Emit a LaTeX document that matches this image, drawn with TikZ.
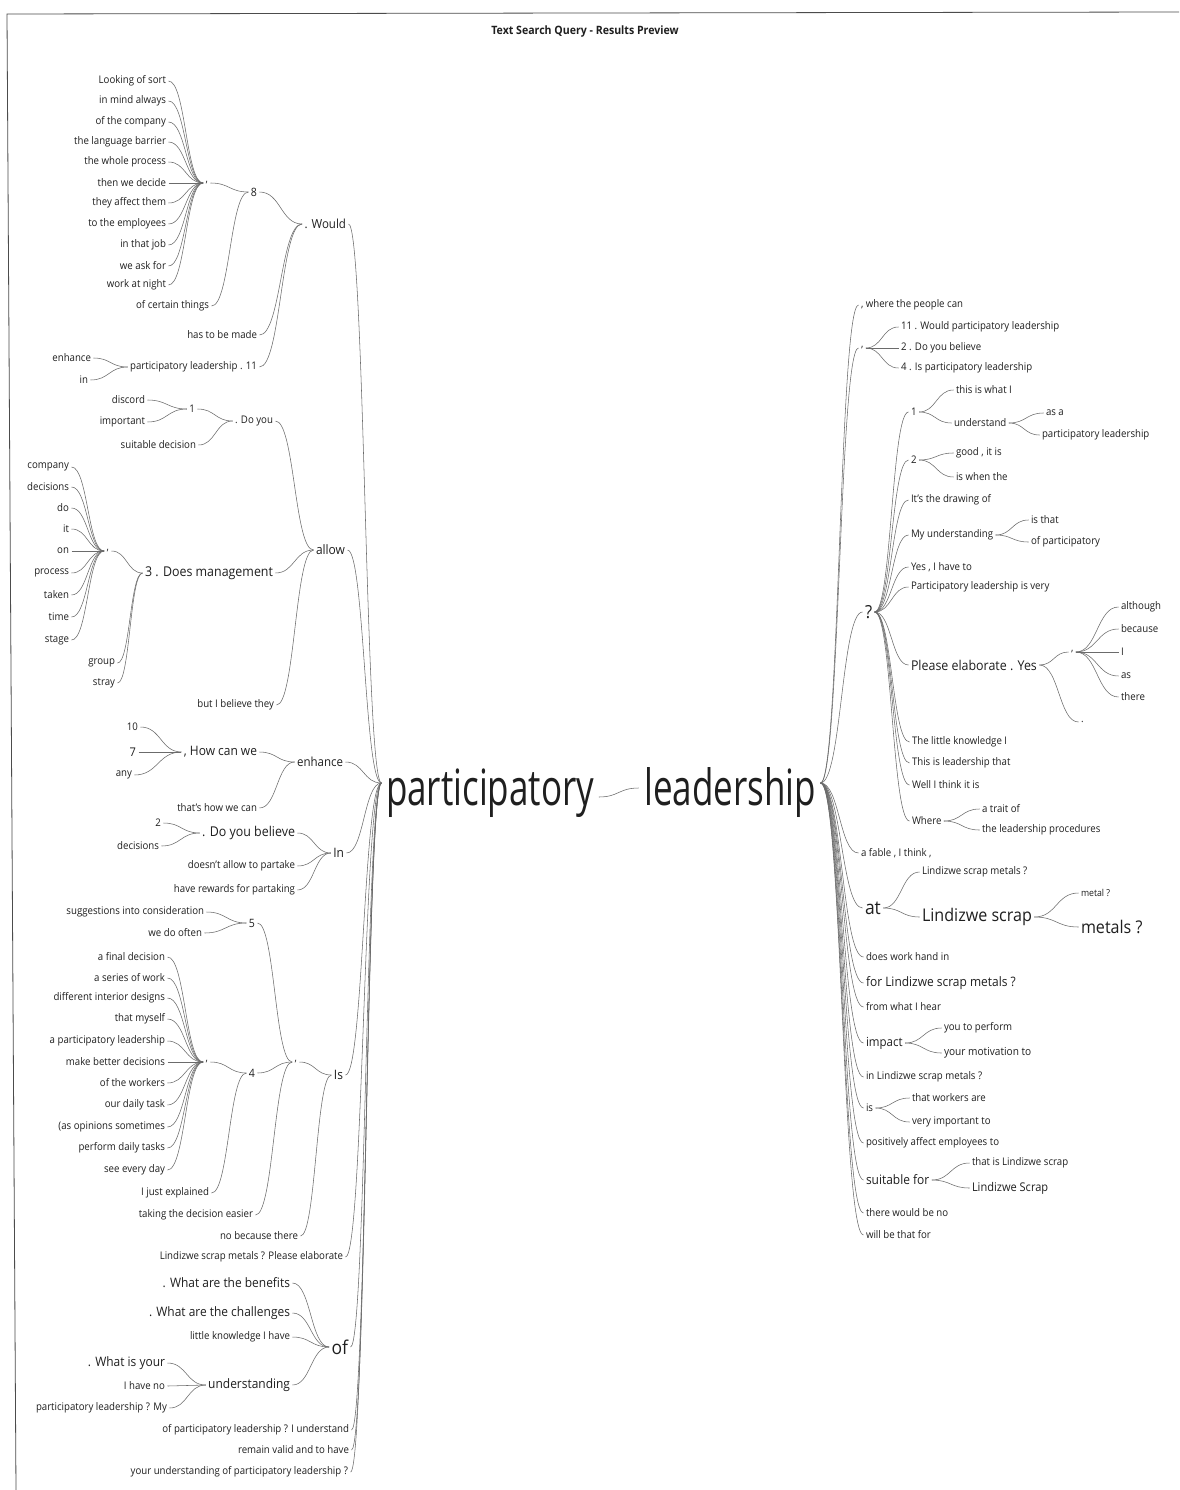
\documentclass[tikz,border=0pt]{standalone}
\usepackage{fontspec}
\setmainfont{Open Sans}[FakeStretch=0.92]
\newfontfamily\rootfont{Open Sans}[FakeStretch=0.7]
\usetikzlibrary{calc}
\definecolor{ink}{gray}{0.12}
\definecolor{wire}{gray}{0.42}
\begin{document}
\begin{tikzpicture}[x=1bp,y=-1bp,
  every node/.style={inner sep=1bp, outer sep=0pt, text=ink,
    font=\fontsize{10.5bp}{12bp}\selectfont},
  sz/.style={font=\fontsize{#1bp}{#1bp}\selectfont},
  lt/.style={anchor=east},
  rt/.style={anchor=west},
  rootword/.style={font=\rootfont\fontsize{50bp}{50bp}\selectfont, inner sep=0pt},
  edge/.style={draw=wire, line width=0.55bp, shorten <=1.5bp, shorten >=1.5bp},
  branch/.style={to path={.. controls ($(\tikztostart)!0.5!(\tikztostart -| \tikztotarget)$)
      and ($(\tikztotarget)!0.5!(\tikztotarget -| \tikztostart)$) .. (\tikztotarget)}}
]
\fill[white] (0,0) rectangle (1179,1490);
\useasboundingbox (0,0) rectangle (1179,1490);

% page frame and heading
\draw[black!70, line width=0.8bp] (1179,12) -- (7,14) -- (16,1490);
\node[font=\bfseries\fontsize{11.5bp}{12bp}\selectfont] (title) at (585,32) {Text Search Query - Results Preview};

% ---------------- the two root words ----------------
\node[rootword, anchor=base west] (P) at (386,805) {participatory};
\node[rootword, anchor=base east] (L) at (816,805) {leadership};
\coordinate (Pin) at ($(P.base west)+(-3,-22)$);
\coordinate (Pout) at ($(P.base east)+(3,-8)$);
\coordinate (Lin) at ($(L.base west)+(-4,-17)$);
\coordinate (Lout) at ($(L.base east)+(3,-22)$);
\draw[edge] (Pout) to[branch] (Lin);

% ---------------- words before "participatory" ----------------
% . Would
\node[lt,sz=12.5] (W) at (347,224) {. Would};
\node[lt,sz=11.5] (N8) at (258,192) {8};
\node[lt] (c1) at (209,183) {,};
\foreach \t/\yy [count=\i] in {{Looking of sort}/81, {in mind always}/101, {of the company}/122,
  {the language barrier}/142, {the whole process}/162, {then we decide}/183, {they affect them}/203,
  {to the employees}/224, {in that job}/245, {we ask for}/266, {work at night}/285}
  {\node[lt] (wa\i) at (167,\yy) {\t}; \draw[edge] (wa\i.east) to[branch] (c1.west);}
\node[lt] (oct) at (210,306) {of certain things};
\node[lt] (htb) at (258,335) {has to be made};
\node[lt] (plx) at (258,367) {participatory leadership . 11};
\node[lt] (enh) at (92,358) {enhance};
\node[lt] (inA) at (89,380) {in};
\draw[edge] (c1.east) to[branch] (N8.west);
\draw[edge] (oct.east) to[branch] (N8.west);
\foreach \c in {N8,htb,plx} \draw[edge] (\c.east) to[branch] (W.west);
\foreach \c in {enh,inA} \draw[edge] (\c.east) to[branch] (plx.west);

% allow
\node[lt,sz=13] (A) at (346,550) {allow};
\node[lt] (DY) at (274,421) {. Do you};
\node[lt] (N1) at (196,409) {1};
\node[lt] (dis) at (146,400) {discord};
\node[lt] (imp) at (146,422) {important};
\node[lt] (sud) at (197,445) {suitable decision};
\foreach \c in {dis,imp} \draw[edge] (\c.east) to[branch] (N1.west);
\foreach \c in {N1,sud} \draw[edge] (\c.east) to[branch] (DY.west);
\node[lt,sz=13.5] (DM) at (274,573) {3 . Does management};
\node[lt] (c2) at (110,551) {,};
\foreach \t/\yy [count=\i] in {{company}/467, {decisions}/487, {do}/508, {it}/529, {on}/551,
  {process}/573, {taken}/595, {time}/617, {stage}/640}
  {\node[lt] (dm\i) at (70,\yy) {\t}; \draw[edge] (dm\i.east) to[branch] (c2.west);}
\node[lt] (grp) at (116,663) {group};
\node[lt] (stray) at (116,683) {stray};
\foreach \c in {c2,grp,stray} \draw[edge] (\c.east) to[branch] (DM.west);
\node[lt] (bib) at (275,705) {but I believe they};
\foreach \c in {DY,DM,bib} \draw[edge] (\c.east) to[branch] (A.west);

% enhance
\node[lt,sz=12.5] (E) at (344,762) {enhance};
\node[lt,sz=13] (HC) at (258,752) {, How can we};
\node[lt] (ten) at (139,727) {10};
\node[lt,sz=12] (sev) at (137,752) {7};
\node[lt] (any) at (133,775) {any};
\foreach \c in {ten,sev,any} \draw[edge] (\c.east) to[branch] (HC.west);
\node[lt] (thc) at (258,808) {that's how we can};
\foreach \c in {HC,thc} \draw[edge] (\c.east) to[branch] (E.west);

% In
\node[lt,sz=13] (IN) at (345,853) {In};
\node[lt,sz=13.5] (DB) at (296,833) {. Do you believe};
\node[lt] (two) at (162,823) {2};
\node[lt] (dec) at (160,846) {decisions};
\foreach \c in {two,dec} \draw[edge] (\c.east) to[branch] (DB.west);
\node[lt] (dap) at (296,866) {doesn't allow to partake};
\node[lt] (hrp) at (296,890) {have rewards for partaking};
\foreach \c in {DB,dap,hrp} \draw[edge] (\c.east) to[branch] (IN.west);

% Is
\node[lt,sz=13] (IS) at (344,1075) {Is};
\node[lt] (X) at (298,1062) {,};
\node[lt,sz=11.5] (F5) at (256,923) {5};
\node[lt] (sic) at (205,912) {suggestions into consideration};
\node[lt] (wdo) at (203,933) {we do often};
\foreach \c in {sic,wdo} \draw[edge] (\c.east) to[branch] (F5.west);
\node[lt,sz=11.5] (F4) at (256,1073) {4};
\node[lt] (c3) at (209,1062) {,};
\foreach \t/\yy [count=\i] in {{a final decision}/957, {a series of work}/978,
  {different interior designs}/998, {that myself}/1019, {a participatory leadership}/1041,
  {make better decisions}/1062, {of the workers}/1083, {our daily task}/1105,
  {(as opinions sometimes}/1127, {perform daily tasks}/1148, {see every day}/1170}
  {\node[lt] (fo\i) at (166,\yy) {\t}; \draw[edge] (fo\i.east) to[branch] (c3.west);}
\node[lt] (ije) at (210,1193) {I just explained};
\foreach \c in {c3,ije} \draw[edge] (\c.east) to[branch] (F4.west);
\node[lt] (tde) at (254,1215) {taking the decision easier};
\foreach \c in {F5,F4,tde} \draw[edge] (\c.east) to[branch] (X.west);
\node[lt] (nbt) at (299,1236) {no because there};
\foreach \c in {X,nbt} \draw[edge] (\c.east) to[branch] (IS.west);

\node[lt] (lpe) at (344,1257) {Lindizwe scrap metals ? Please elaborate};

% of
\node[lt,sz=19] (OF) at (349,1347) {of};
\node[lt,sz=13] (wab) at (291,1283) {. What are the benefits};
\node[lt,sz=13] (wac) at (291,1313) {. What are the challenges};
\node[lt] (lkh) at (291,1337) {little knowledge I have};
\node[lt,sz=13] (U) at (291,1385) {understanding};
\node[lt,sz=13] (wiy) at (166,1363) {. What is your};
\node[lt] (ihn) at (166,1386) {I have no};
\node[lt] (plm) at (168,1408) {participatory leadership ? My};
\foreach \c in {wiy,ihn,plm} \draw[edge] (\c.east) to[branch] (U.west);
\foreach \c in {wab,wac,lkh,U} \draw[edge] (\c.east) to[branch] (OF.west);

\node[lt] (plu) at (350,1430) {of participatory leadership ? I understand};
\node[lt] (rvh) at (350,1450) {remain valid and to have};
\node[lt] (yup) at (349,1472) {your understanding of participatory leadership ?};

\foreach \c in {W,A,E,IN,IS,lpe,OF,plu,rvh,yup} \draw[edge] (\c.east) to[branch] (Pin);

% ---------------- words after "leadership" ----------------
\node[rt] (wpc) at (860,305) {, where the people can};
\node[rt] (R2) at (860,348) {,};
\node[rt] (r11) at (900,327) {11 . Would participatory leadership};
\node[rt] (r2) at (900,348) {2 . Do you believe};
\node[rt] (r4) at (900,368) {4 . Is participatory leadership};
\foreach \c in {r11,r2,r4} \draw[edge] (R2.east) to[branch] (\c.west);

% ?
\node[rt,sz=18] (Q) at (864,612) {?};
\node[rt] (Q1) at (910,412) {1};
\node[rt] (tiw) at (955,390) {this is what I};
\node[rt] (UN) at (953,423) {understand};
\node[rt] (asa) at (1045,413) {as a};
\node[rt] (pl2) at (1041,435) {participatory leadership};
\foreach \c in {asa,pl2} \draw[edge] (UN.east) to[branch] (\c.west);
\foreach \c in {tiw,UN} \draw[edge] (Q1.east) to[branch] (\c.west);
\node[rt] (Q2) at (910,460) {2};
\node[rt] (gii) at (955,453) {good , it is};
\node[rt] (iwt) at (955,477) {is when the};
\foreach \c in {gii,iwt} \draw[edge] (Q2.east) to[branch] (\c.west);
\node[rt] (tdo) at (910,500) {It's the drawing of};
\node[rt] (MU) at (910,535) {My understanding};
\node[rt] (ist) at (1030,520) {is that};
\node[rt] (opa) at (1030,542) {of participatory};
\foreach \c in {ist,opa} \draw[edge] (MU.east) to[branch] (\c.west);
\node[rt] (yih) at (910,567) {Yes , I have to};
\node[rt] (plv) at (910,587) {Participatory leadership is very};
\node[rt,sz=13.5] (PE) at (910,665) {Please elaborate . Yes};
\node[rt] (c4) at (1070,652) {,};
\foreach \t/\yy [count=\i] in {{although}/607, {because}/629, {I}/652, {as}/676, {there}/697}
  {\node[rt] (ye\i) at (1120,\yy) {\t}; \draw[edge] (c4.east) to[branch] (ye\i.west);}
\node[rt] (dot) at (1080,722) {.};
\foreach \c in {c4,dot} \draw[edge] (PE.east) to[branch] (\c.west);
\node[rt] (tlk) at (911,742) {The little knowledge I};
\node[rt] (tlt) at (911,763) {This is leadership that};
\node[rt] (wit) at (911,785) {Well I think it is};
\node[rt] (WH) at (911,821) {Where};
\node[rt] (ato) at (981,809) {a trait of};
\node[rt] (tlp) at (981,830) {the leadership procedures};
\foreach \c in {ato,tlp} \draw[edge] (WH.east) to[branch] (\c.west);
\foreach \c in {Q1,Q2,tdo,MU,yih,plv,PE,tlk,tlt,wit,WH} \draw[edge] (Q.east) to[branch] (\c.west);

\node[rt] (aft) at (860,853) {a fable , I think ,};

% at
\node[rt,sz=19] (AT) at (864,908) {at};
\node[rt] (lsm) at (921,872) {Lindizwe scrap metals ?};
\node[rt,sz=17.5] (LS) at (921,917) {Lindizwe scrap};
\node[rt,sz=9.5] (mt1) at (1080,893) {metal ?};
\node[rt,sz=17.5] (mt2) at (1080,927) {metals ?};
\foreach \c in {mt1,mt2} \draw[edge] (LS.east) to[branch] (\c.west);
\foreach \c in {lsm,LS} \draw[edge] (AT.east) to[branch] (\c.west);

\node[rt] (dwh) at (865,957) {does work hand in};
\node[rt,sz=13] (fls) at (865,983) {for Lindizwe scrap metals ?};
\node[rt] (fwh) at (865,1007) {from what I hear};

% impact
\node[rt,sz=12.5] (IM) at (865,1043) {impact};
\node[rt] (ytp) at (943,1028) {you to perform};
\node[rt,sz=11] (ymt) at (943,1053) {your motivation to};
\foreach \c in {ytp,ymt} \draw[edge] (IM.east) to[branch] (\c.west);

\node[rt] (ils) at (865,1077) {in Lindizwe scrap metals ?};

% is
\node[rt] (IS2) at (865,1108) {is};
\node[rt] (twa) at (911,1098) {that workers are};
\node[rt] (vit) at (911,1122) {very important to};
\foreach \c in {twa,vit} \draw[edge] (IS2.east) to[branch] (\c.west);

\node[rt] (pae) at (865,1143) {positively affect employees to};

% suitable for
\node[rt,sz=13] (SF) at (865,1180) {suitable for};
\node[rt] (til) at (971,1163) {that is Lindizwe scrap};
\node[rt,sz=12] (lsc) at (971,1188) {Lindizwe Scrap};
\foreach \c in {til,lsc} \draw[edge] (SF.east) to[branch] (\c.west);

\node[rt] (twb) at (865,1213) {there would be no};
\node[rt] (wbt) at (865,1235) {will be that for};

\foreach \c in {wpc,R2,Q,aft,AT,dwh,fls,fwh,IM,ils,IS2,pae,SF,twb,wbt}
  \draw[edge] (Lout) to[branch] (\c.west);
\end{tikzpicture}
\end{document}
